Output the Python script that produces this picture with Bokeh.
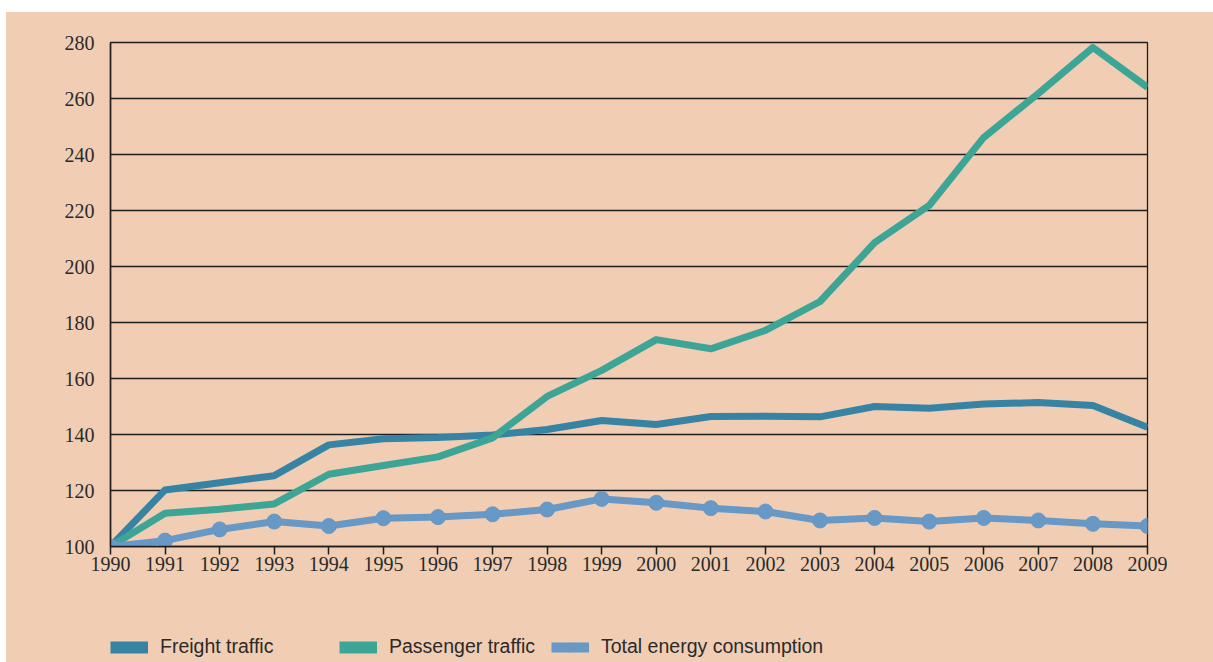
from bokeh.plotting import figure
from bokeh.models import Legend, LegendItem, FixedTicker, Range1d, Spacer
from bokeh.layouts import column, row
from bokeh.embed import file_html
from bokeh.resources import INLINE

years = list(range(1990, 2010))
freight = [100, 120.2, 122.8, 125.3, 136.3, 138.5, 138.9, 139.8, 141.8, 145.0,
           143.6, 146.4, 146.5, 146.3, 150.0, 149.4, 150.9, 151.4, 150.4, 142.6]
passenger = [100, 111.9, 113.3, 115.2, 125.8, 128.9, 132.0, 138.8, 153.6, 162.9,
             173.9, 170.6, 177.2, 187.5, 208.5, 221.8, 246.1, 261.8, 278.2, 264.0]
energy = [100, 102.1, 106.1, 108.9, 107.3, 110.1, 110.5, 111.5, 113.2, 117.0,
          115.6, 113.7, 112.5, 109.3, 110.2, 108.9, 110.2, 109.3, 108.1, 107.3]
y_ticks = [100, 120, 140, 160, 180, 200, 220, 240, 260, 280]
series_names = ["Freight traffic", "Passenger traffic", "Total energy consumption"]

BG = "#f1ceb3"
C_FREIGHT = "#3783a3"
C_PASS = "#3da596"
C_ENERGY = "#6798c6"
INK = "#1e1e1e"

p = figure(width=1207, height=608, output_backend="svg", toolbar_location=None,
           x_range=Range1d(1990, 2009), y_range=Range1d(100, 280),
           min_border_left=104, min_border_right=66, min_border_top=30,
           min_border_bottom=74)
p.background_fill_color = BG
p.border_fill_color = BG
p.outline_line_color = INK
p.outline_line_width = 1.3

p.xgrid.visible = False
p.ygrid.ticker = FixedTicker(ticks=y_ticks)
p.ygrid.grid_line_color = INK
p.ygrid.grid_line_width = 1.3

p.xaxis.ticker = FixedTicker(ticks=years)
p.xaxis.major_tick_out = 8
p.xaxis.major_tick_in = 0
p.xaxis.minor_tick_line_color = None
p.xaxis.major_tick_line_color = INK
p.xaxis.major_tick_line_width = 1.5
p.xaxis.axis_line_color = INK
p.xaxis.axis_line_width = 1.5
p.xaxis.major_label_standoff = 2

p.yaxis.ticker = FixedTicker(ticks=y_ticks)
p.yaxis.major_tick_out = 0
p.yaxis.major_tick_in = 0
p.yaxis.minor_tick_line_color = None
p.yaxis.axis_line_color = INK
p.yaxis.axis_line_width = 1.5
p.yaxis.major_label_standoff = 16

for ax in (p.xaxis, p.yaxis):
    ax.major_label_text_font = "Liberation Serif"
    ax.major_label_text_font_size = "20px"
    ax.major_label_text_color = "#2a2a2a"

p.line(years, freight, line_color=C_FREIGHT, line_width=7, line_join="round")
p.line(years, passenger, line_color=C_PASS, line_width=7, line_join="round")
p.line(years, energy, line_color=C_ENERGY, line_width=7, line_join="round")
p.scatter(years, energy, size=15, fill_color=C_ENERGY, line_color=C_ENERGY)

# legend strip (its renderers fall outside its 0..1 ranges, only the legend shows)
pl = figure(width=1207, height=42, output_backend="svg", toolbar_location=None,
            x_range=Range1d(0, 1), y_range=Range1d(0, 1), min_border=0,
            x_axis_location=None, y_axis_location=None)
pl.background_fill_color = BG
pl.border_fill_color = BG
pl.outline_line_color = None
pl.grid.visible = False

lf = pl.line(years, freight, line_color=C_FREIGHT, line_width=12)
lp = pl.line(years, passenger, line_color=C_PASS, line_width=12)
le = pl.line(years, energy, line_color=C_ENERGY, line_width=10)
lem = pl.scatter(years, energy, size=16, fill_color=C_ENERGY, line_color=C_ENERGY)

def make_legend(label, renderers, x):
    lg = Legend(items=[LegendItem(label=label, renderers=renderers)],
                location=(x, 4), orientation="horizontal",
                padding=0, margin=0, spacing=0,
                glyph_width=38, glyph_height=22, label_standoff=12,
                border_line_alpha=0, background_fill_alpha=0,
                label_text_font="Liberation Sans",
                label_text_font_size="19.5px", label_text_color="#2a2a2a",
                label_height=22)
    pl.add_layout(lg, "center")

make_legend(series_names[0], [lf], 0)
make_legend(series_names[1], [lp], 229)
make_legend(series_names[2], [le, lem], 441)

inner = column(p, pl, spacing=0, styles={"background-color": BG})
layout = column(Spacer(width=1213, height=12),
                row(Spacer(width=6, height=650), inner))

open("out.html", "w").write(file_html(layout, INLINE))
